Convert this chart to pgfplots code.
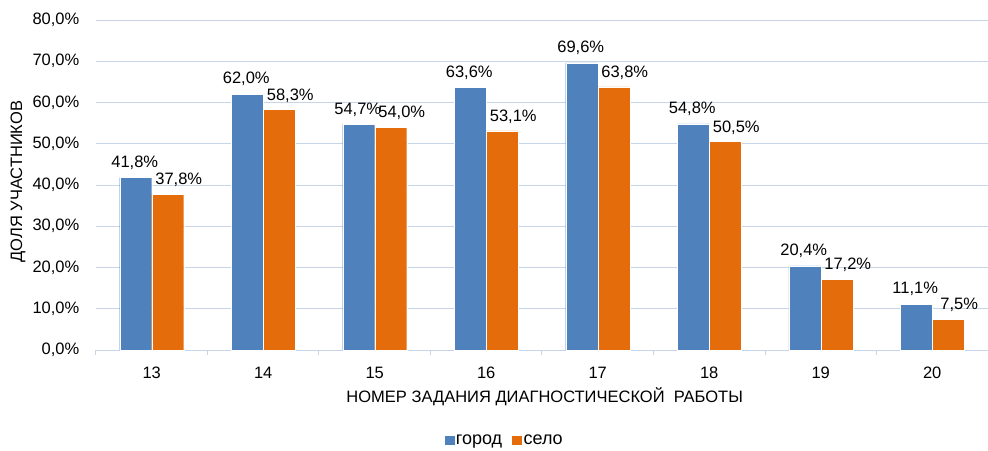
\documentclass[border=0pt]{standalone}
\usepackage{fontspec}
\setmainfont{Liberation Sans}
\usepackage{pgfplots}
\pgfplotsset{compat=1.18}
\definecolor{cblue}{RGB}{79,129,189}
\definecolor{corange}{RGB}{228,108,10}
\definecolor{gridc}{RGB}{200,213,233}
\begin{document}
\fontsize{16.5pt}{19pt}\selectfont
\begin{tikzpicture}
\useasboundingbox (-96pt,-100pt) rectangle (892pt,350pt);
\begin{axis}[
  at={(0,0)}, anchor=south west,
  scale only axis, width=892pt, height=330pt,
  /pgf/number format/assume math mode=true,
  ybar=0pt, bar width=0.287,
  xmin=-0.5, xmax=7.5, ymin=0, ymax=80,
  xtick={0,1,2,3,4,5,6,7},
  xticklabels={13,14,15,16,17,18,19,20},
  minor xtick={-0.5,0.5,1.5,2.5,3.5,4.5,5.5,6.5,7.5},
  ytick={0,10,20,30,40,50,60,70,80},
  yticklabel={\pgfmathprintnumber[fixed,fixed zerofill,precision=1,use comma]{\tick}\%},
  ymajorgrids, grid style={draw=gridc, line width=1pt},
  axis line style={draw=none},
  major tick length=0pt, minor tick length=5pt, tick align=outside,
  xtick pos=left, ytick pos=left,
  major tick style={draw=none},
  minor x tick style={draw=gridc, line width=1pt},
  yticklabel style={anchor=east, xshift=-11pt},
  xticklabel style={anchor=north, yshift=-11pt},
  xlabel={НОМЕР ЗАДАНИЯ ДИАГНОСТИЧЕСКОЙ~ РАБОТЫ},
  xlabel style={at={(axis description cs:0.503,-0.16)}, anchor=base},
  ylabel={ДОЛЯ УЧАСТНИКОВ},
  ylabel style={at={(axis description cs:-0.0875,0.51)}, anchor=center, rotate=0},
  nodes near coords={\pgfmathprintnumber[fixed,fixed zerofill,precision=1,use comma]{\pgfplotspointmeta}\%},
  every node near coord/.append style={anchor=south, yshift=1.5pt},
  legend image code/.code={\fill[#1] (0pt,-4pt) rectangle (11pt,6pt);},
  legend style={at={(axis description cs:0.457,-0.276)}, anchor=center, draw=none,
    legend columns=2, font=\fontsize{18pt}{20pt}\selectfont,
    /tikz/every odd column/.append style={column sep=0pt},
    /tikz/every even column/.append style={column sep=8pt},
    nodes={inner sep=1pt}},
]
\addplot[fill=cblue, draw=white, line width=0.4pt,
  every node near coord/.append style={xshift=-1pt, yshift=1pt}]
  coordinates {(0,41.8) (1,62.0) (2,54.7) (3,63.6) (4,69.6) (5,54.8) (6,20.4) (7,11.1)};
\addplot[fill=corange, draw=white, line width=0.4pt,
  every node near coord/.append style={xshift=11pt}]
  coordinates {(0,37.8) (1,58.3) (2,54.0) (3,53.1) (4,63.8) (5,50.5) (6,17.2) (7,7.5)};
\legend{город,село}
\end{axis}
\end{tikzpicture}
\end{document}
